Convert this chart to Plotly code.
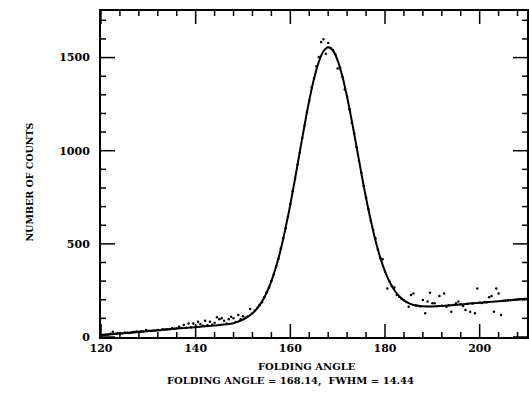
import plotly.graph_objects as go

# Fitted curve
fit_x = [120, 124, 128, 132, 136, 140, 144, 146, 148, 149, 150, 151, 152, 153, 154, 155,
         156, 157, 158, 159, 160, 161, 162, 163, 164, 165, 166, 167, 168, 169, 170, 171,
         172, 173, 174, 175, 176, 177, 178, 179, 180, 181, 182, 183, 184, 185, 186, 187,
         188, 190, 192, 196, 200, 204, 208, 210]
fit_y = [10, 19, 27, 36, 45, 53, 62, 67, 74, 83, 94, 108, 127, 154, 190, 238,
         300, 378, 473, 586, 712, 850, 994, 1136, 1270, 1386, 1476, 1534, 1555, 1538, 1484, 1399,
         1288, 1158, 1020, 880, 746, 625, 517, 426, 352, 294, 251, 219, 197, 182, 172, 167,
         165, 164, 167, 175, 184, 192, 201, 205]

data_x = [120.5, 121, 121.5, 122, 122.5, 123, 123.5, 124, 124.5, 125, 125.5, 126, 126.5, 127,
          127.5, 128, 128.5, 129, 129.5, 130, 130.5, 131, 131.5, 132, 132.5, 133, 133.5, 134,
          134.5, 135, 135.5, 136, 136.5, 137, 137.5, 138, 138.5, 139, 139.5, 140, 140.5, 141,
          141.5, 142, 142.5, 143, 143.5, 144, 144.5, 145, 145.5, 146, 146.5, 147, 147.5, 148,
          148.5, 149, 149.5, 150, 150.5, 151, 151.5, 152, 152.5, 153, 153.5, 154, 154.5, 155,
          155.5, 156, 156.5, 157, 157.5, 158, 158.5, 159, 159.5, 160, 160.5, 161, 161.5, 162,
          162.5, 163, 163.5, 164, 164.5, 165, 165.5, 166, 166.5, 167, 167.5, 168, 168.5, 169,
          169.5, 170, 170.5, 171, 171.5, 172, 172.5, 173, 173.5, 174, 174.5, 175, 175.5, 176,
          176.5, 177, 177.5, 178, 178.5, 179, 179.5, 180, 180.5, 181, 181.5, 182, 182.5, 183,
          183.5, 184, 184.5, 185, 185.5, 186, 186.5, 187, 187.5, 188, 188.5, 189, 189.5, 190,
          190.5, 191, 191.5, 192, 192.5, 193, 193.5, 194, 194.5, 195, 195.5, 196, 196.5, 197,
          197.5, 198, 198.5, 199, 199.5, 200, 200.5, 201, 201.5, 202, 202.5, 203, 203.5, 204,
          204.5, 205, 205.5, 206, 206.5, 207, 207.5, 208, 208.5, 209, 209.5]
data_y = [12, 14, 13, 18, 28, 17, 20, 21, 19, 24, 23, 22, 25, 27,
          29, 28, 31, 30, 38, 33, 32, 34, 35, 37, 36, 41, 40, 42,
          41, 47, 44, 46, 55, 48, 64, 50, 73, 53, 73, 56, 82, 70,
          60, 87, 63, 82, 66, 77, 106, 95, 100, 87, 72, 95, 109, 100,
          80, 118, 95, 112, 104, 110, 150, 128, 142, 156, 172, 186, 214, 240,
          266, 302, 336, 380, 420, 476, 530, 584, 646, 714, 783, 848, 925, 990,
          1068, 1134, 1206, 1268, 1340, 1388, 1453, 1503, 1584, 1598, 1521, 1578, 1552, 1540,
          1518, 1441, 1447, 1397, 1328, 1290, 1222, 1150, 1092, 1018, 945, 882, 810, 749,
          686, 623, 574, 529, 470, 424, 417, 350, 261, 296, 273, 266, 225, 216,
          205, 196, 188, 163, 225, 234, 170, 168, 165, 198, 127, 190, 238, 181,
          181, 165, 220, 168, 234, 163, 170, 136, 172, 181, 190, 176, 166, 145,
          178, 136, 180, 127, 261, 184, 183, 186, 187, 213, 220, 136, 261, 234,
          118, 194, 196, 197, 198, 199, 200, 201, 202, 203, 204]

x_range = [120, 210]
y_range = [0, 1750]
x_tick_vals = [120, 140, 160, 180, 200]
x_tick_text = ["120", "140", "160", "180", "200"]
y_tick_vals = [0, 500, 1000, 1500]
y_tick_text = ["0", "500", "1000", "1500"]
x_minor_vals = [v for v in range(124, 210, 4) if v not in x_tick_vals]
y_minor_vals = [v for v in range(100, 1750, 100) if v not in y_tick_vals]

FONT = "DejaVu Serif"
W, H = 529, 394
ML, MR, MT, MB = 101, 2, 11, 57
PLOT_H = H - MT - MB

fig = go.Figure()
fig.add_trace(go.Scatter(x=data_x, y=data_y, mode="markers",
                         marker=dict(color="black", size=2.5), showlegend=False))
fig.add_trace(go.Scatter(x=fit_x, y=fit_y, mode="lines", line_shape="spline",
                         line=dict(color="black", width=2), showlegend=False))

fig.update_xaxes(range=x_range, tickmode="array", tickvals=x_tick_vals,
                 ticktext=["<b>" + t + "</b>" for t in x_tick_text],
                 ticks="", showline=True, linecolor="black", linewidth=2, mirror=True,
                 showgrid=False, zeroline=False,
                 tickfont=dict(family=FONT, size=11, color="black"))
fig.update_yaxes(range=y_range, tickmode="array", tickvals=y_tick_vals,
                 ticktext=["<b>" + t + "</b>\u00a0\u00a0" for t in y_tick_text],
                 ticks="", showline=True, linecolor="black", linewidth=2, mirror=True,
                 showgrid=False, zeroline=False,
                 tickfont=dict(family=FONT, size=11, color="black"))

# Tick marks drawn inward on all four sides
tick_line = dict(color="black", width=1.5)
for vals, length in ((x_tick_vals, 13), (x_minor_vals, 5)):
    frac = length / PLOT_H
    for v in vals:
        px = (v - x_range[0]) / (x_range[1] - x_range[0])
        fig.add_shape(type="line", xref="paper", yref="paper",
                      x0=px, x1=px, y0=0, y1=frac, line=tick_line, layer="above")
        fig.add_shape(type="line", xref="paper", yref="paper",
                      x0=px, x1=px, y0=1, y1=1 - frac, line=tick_line, layer="above")
for vals, length in ((y_tick_vals, 14), (y_minor_vals, 5)):
    for v in vals:
        fig.add_shape(type="line", xref="paper", yref="y", xsizemode="pixel", xanchor=0,
                      x0=0, x1=length, y0=v, y1=v, line=tick_line)
        fig.add_shape(type="line", xref="paper", yref="y", xsizemode="pixel", xanchor=1,
                      x0=0, x1=-length, y0=v, y1=v, line=tick_line)

txt_font = dict(family=FONT, size=10, color="black")
fig.add_annotation(text="<b>NUMBER OF COUNTS</b>", xref="paper", yref="paper",
                   x=-0.168, y=0.475, textangle=-90, showarrow=False,
                   xanchor="center", yanchor="middle",
                   font=dict(family=FONT, size=9.5, color="black"))
fig.add_annotation(text="<b>FOLDING ANGLE</b>", xref="paper", yref="paper",
                   x=0.4836, y=-0.092, showarrow=False,
                   xanchor="center", yanchor="middle", font=txt_font)
fig.add_annotation(text="<b>FOLDING ANGLE = 168.14,  FWHM = 14.44</b>", xref="paper",
                   yref="paper", x=0.446, y=-0.135, showarrow=False,
                   xanchor="center", yanchor="middle", font=txt_font)

fig.update_layout(template="none", width=W, height=H,
                  margin=dict(l=ML, r=MR, t=MT, b=MB),
                  plot_bgcolor="white", paper_bgcolor="white", showlegend=False)

fig.write_html("out.html")
